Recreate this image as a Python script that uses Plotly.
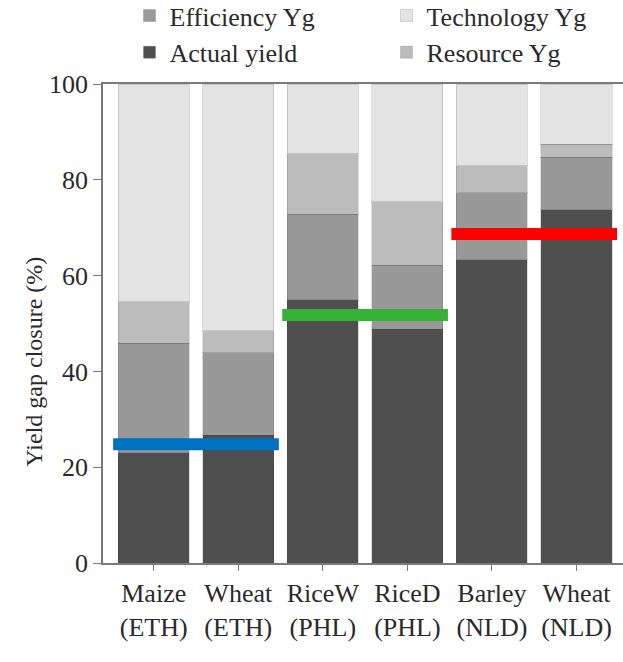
import plotly.graph_objects as go

# Crops and countries along the x axis
crops = ["Maize<br>(ETH)", "Wheat<br>(ETH)", "RiceW<br>(PHL)", "RiceD<br>(PHL)", "Barley<br>(NLD)", "Wheat<br>(NLD)"]

# Stacked components of yield gap closure (%)
actual_yield = [23.0, 26.7, 55.0, 48.8, 63.3, 73.8]
efficiency_yg = [22.9, 17.2, 17.8, 13.4, 14.0, 10.9]
resource_yg = [8.6, 4.6, 12.6, 13.2, 5.6, 2.7]
technology_yg = [45.5, 51.5, 14.6, 24.6, 17.1, 12.6]

# Country-level reference levels (%) and the pair of crops each spans
country_levels = [24.8, 51.8, 68.7]
country_spans = [(0, 1), (2, 3), (4, 5)]
country_colors = ["#0070c0", "#36b336", "#ff0000"]

x_pos = list(range(len(crops)))
font_family = "Liberation Serif, Times New Roman, serif"
text_color = "#2a2a2a"
outline = dict(color="rgba(60,60,60,0.18)", width=1)

fig = go.Figure()
series = [
    ("Actual yield", actual_yield, "#4f4f4f", 3),
    ("Efficiency Yg", efficiency_yg, "#999999", 1),
    ("Resource Yg", resource_yg, "#bcbcbc", 4),
    ("Technology Yg", technology_yg, "#e4e4e4", 2),
]
for name, vals, color, rank in series:
    fig.add_trace(go.Bar(
        x=x_pos, y=vals, name=name, legendrank=rank,
        marker=dict(color=color, line=outline),
    ))

for level, (a, b), color in zip(country_levels, country_spans, country_colors):
    fig.add_trace(go.Scatter(
        x=[a - 0.48, b + 0.48], y=[level, level], mode="lines",
        line=dict(color=color, width=12), showlegend=False, hoverinfo="skip",
    ))

fig.update_layout(
    width=623, height=662,
    margin=dict(l=103, r=0, t=84, b=99, autoexpand=False),
    barmode="stack", bargap=0.16,
    plot_bgcolor="white", paper_bgcolor="white",
    font=dict(family=font_family, size=26, color=text_color),
    legend=dict(
        orientation="h", traceorder="normal",
        xref="paper", yref="paper",
        x=0.051, y=1.192, xanchor="left", yanchor="top",
        entrywidth=212, font=dict(size=26),
        bgcolor="rgba(0,0,0,0)", tracegroupgap=0, itemwidth=30,
    ),
    annotations=[dict(
        text="Yield gap closure (%)", textangle=-90,
        xref="paper", yref="paper", x=-0.133, y=0.42,
        xanchor="center", yanchor="middle", showarrow=False,
        font=dict(size=24, color=text_color),
    )],
)
fig.update_xaxes(
    range=[-0.6, 5.55], tickvals=x_pos, ticktext=crops,
    showline=True, linecolor="#7a7a7a", linewidth=1.5, mirror=True,
    ticks="outside", ticklen=6, tickcolor="#7a7a7a",
    showgrid=False, zeroline=False, tickfont=dict(size=26),
)
fig.update_yaxes(
    range=[0, 100], tickvals=[0, 20, 40, 60, 80, 100],
    showline=True, linecolor="#7a7a7a", linewidth=1.5,
    ticks="outside", ticklen=8, tickcolor="#7a7a7a",
    showgrid=False, zeroline=False, tickfont=dict(size=26),
)

fig.write_html("out.html")
